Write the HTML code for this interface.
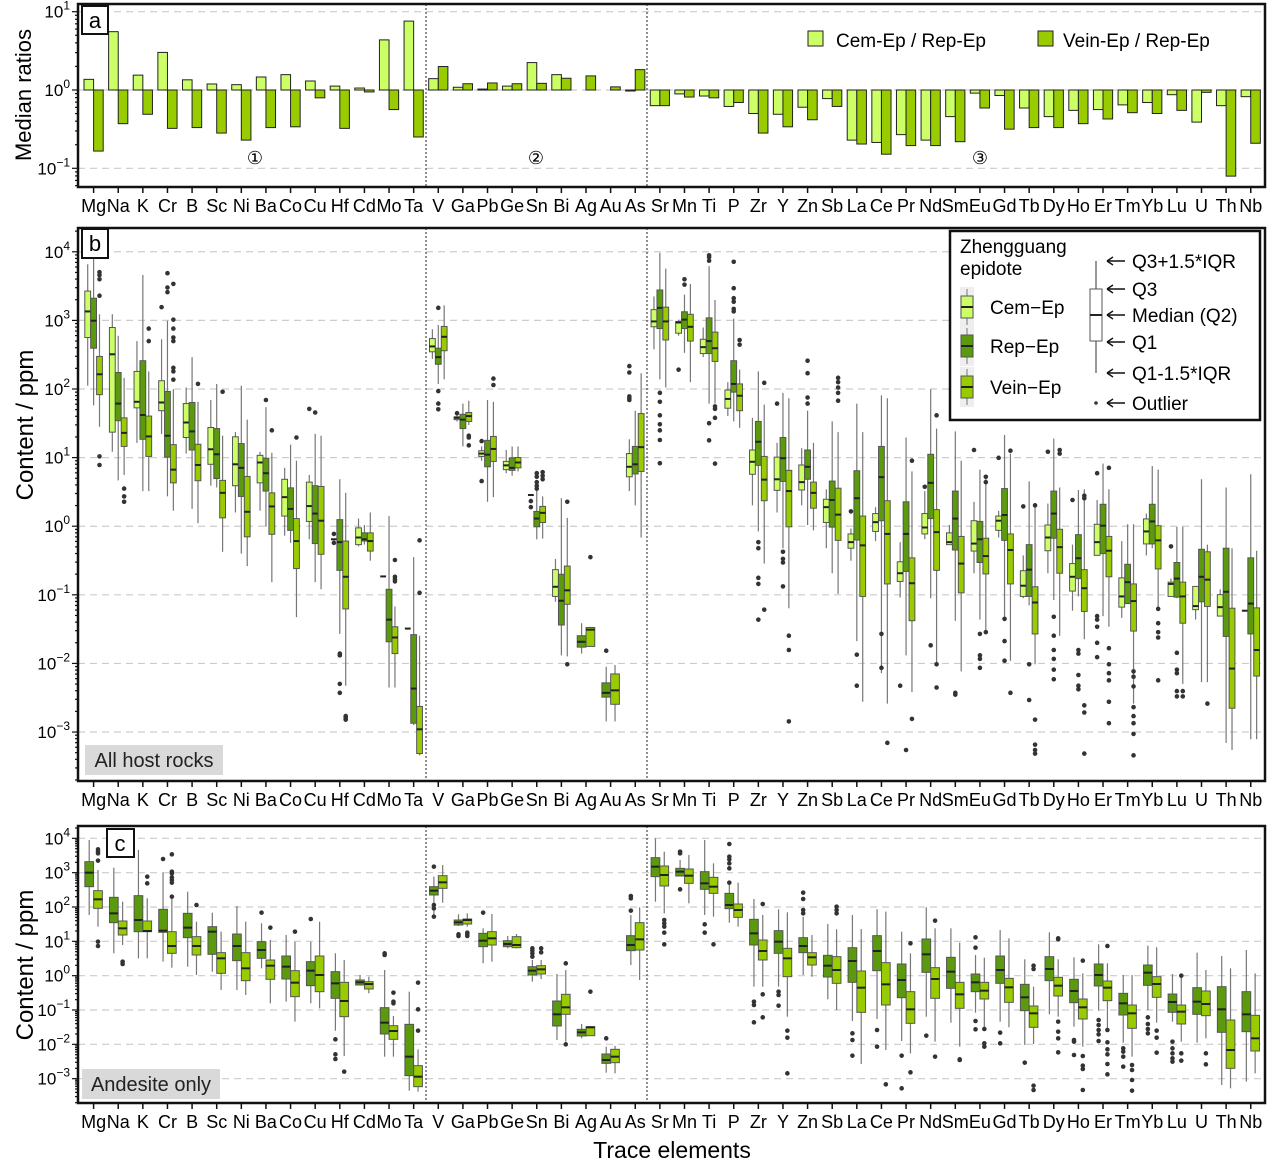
<!DOCTYPE html>
<html><head><meta charset="utf-8"><style>html,body{margin:0;padding:0;background:#fff}svg{display:block}text{font-family:"Liberation Sans",sans-serif}</style></head>
<body><svg id="s" width="1268" height="1171" xmlns="http://www.w3.org/2000/svg"></svg>
<script>
const S=document.getElementById('s');let h='';
const E="Mg Na K Cr B Sc Ni Ba Co Cu Hf Cd Mo Ta V Ga Pb Ge Sn Bi Ag Au As Sr Mn Ti P Zr Y Zn Sb La Ce Pr Nd Sm Eu Gd Tb Dy Ho Er Tm Yb Lu U Th Nb".split(' ');
const X=i=>93.6+24.62*i;
const CC='#ccff66',CR='#5b9a0c',CV='#99cc00';
const L=78,R=1265;
function frame(t,b){h+=`<rect x="${L}" y="${t}" width="${R-L}" height="${b-t}" fill="none" stroke="#111" stroke-width="2.5"/>`;}
function grid(y){h+=`<line x1="${L}" x2="${R}" y1="${y}" y2="${y}" stroke="#ccc" stroke-width="1.2" stroke-dasharray="7,5"/>`;}
function ylab(y,e){h+=`<text x="70" y="${y+6}" font-size="17" text-anchor="end">10<tspan dy="-8" font-size="12">${e}</tspan></text>`;}
function xlabels(b){E.forEach((n,i)=>{h+=`<line x1="${X(i)}" x2="${X(i)}" y1="${b}" y2="${b+6}" stroke="#111" stroke-width="1.5"/>`;h+=`<text x="${X(i)}" y="${b+25}" font-size="18" text-anchor="middle">${n}</text>`;});}
function minors(yOf,d0,d1,t,b){for(let d=d0;d<=d1;d++){for(let k=1;k<10;k++){const y=yOf(d+Math.log10(k));if(y<t||y>b)continue;const len=k==1?6:3;h+=`<line x1="${L-len}" x2="${L}" y1="${y}" y2="${y}" stroke="#111" stroke-width="1.2"/>`;}}}
function dividers(t,b){[426,647].forEach(x=>h+=`<line x1="${x}" x2="${x}" y1="${t}" y2="${b}" stroke="#222" stroke-width="1" stroke-dasharray="2,2"/>`);}
// Panel a
const A=[[.136,-.78],[.745,-.43],[.19,-.31],[.48,-.49],[.13,-.48],[.077,-.55],[.068,-.64],[.166,-.48],[.196,-.47],[.115,-.1],[.05,-.49],[.025,-.025],[.64,-.25],[.88,-.6],[.145,.3],[.035,.08],[.012,.09],[.05,.08],[.35,.085],[.196,.15],[0,.18],[0,.04],[-.01,.26],[-.2,-.2],[-.05,-.09],[-.077,-.1],[-.21,-.16],[-.3,-.55],[-.31,-.47],[-.22,-.38],[-.11,-.21],[-.64,-.69],[-.67,-.82],[-.57,-.71],[-.64,-.71],[-.34,-.66],[-.04,-.23],[-.07,-.5],[-.23,-.48],[-.34,-.48],[-.26,-.43],[-.25,-.37],[-.19,-.29],[-.16,-.3],[-.06,-.26],[-.41,-.03],[-.2,-1.1],[-.085,-.68]];
const ya=v=>90-v*78.3;
[1,0,-1].forEach(d=>grid(ya(d)));
A.forEach((p,i)=>{const x=X(i);[[p[0],x-9.6,CC],[p[1],x,CV]].forEach(([v,x0,c])=>{if(Math.abs(v)<0.004)return;const y1=ya(Math.max(v,0)),y2=ya(Math.min(v,0));h+=`<rect x="${x0}" y="${y1}" width="9.6" height="${Math.max(y2-y1,1)}" fill="${c}" stroke="#222" stroke-width="1"/>`;});});
dividers(4,187);
minors(ya,-2,1,4,187);
[1,0,-1].forEach(d=>ylab(ya(d),d<0?'−1':d));
frame(4,187);xlabels(187);
h+=`<rect x="82" y="6" width="26" height="28" fill="#fff" stroke="#111" stroke-width="2"/><text x="95" y="28" font-size="22" text-anchor="middle">a</text>`;
h+=`<text x="255" y="164" font-size="18" text-anchor="middle">①</text><text x="536" y="164" font-size="18" text-anchor="middle">②</text><text x="980" y="164" font-size="18" text-anchor="middle">③</text>`;
h+=`<rect x="808" y="31" width="15" height="15" fill="${CC}" stroke="#222"/><text x="836" y="47" font-size="19">Cem-Ep / Rep-Ep</text><rect x="1038" y="31" width="15" height="15" fill="${CV}" stroke="#222"/><text x="1063" y="47" font-size="19">Vein-Ep / Rep-Ep</text>`;
h+=`<text transform="translate(31,95) rotate(-90)" font-size="22" text-anchor="middle">Median ratios</text>`;
// box drawing
function box(x,w,c,d,yf){if(!d)return;const [lo,q1,m,q3,hi,o]=d;const Y=yf;
 h+=`<line x1="${x}" x2="${x}" y1="${Y(lo)}" y2="${Y(hi)}" stroke="#777" stroke-width="1.2"/>`;
 const t=Math.min(Y(q1),Y(q3)),bb=Math.max(Y(q1),Y(q3));
 if(bb-t>0.5)h+=`<rect x="${x-w/2}" y="${t}" width="${w}" height="${bb-t}" fill="${c}" stroke="#555" stroke-width="1"/>`;
 h+=`<line x1="${x-w/2}" x2="${x+w/2}" y1="${Y(m)}" y2="${Y(m)}" stroke="#222" stroke-width="2"/>`;
 (o||[]).forEach(z=>h+=`<circle cx="${x}" cy="${Y(z)}" r="2.3" fill="#333"/>`);}
function dash(v){return [v,v,v,v,v];}
// Panel b
const B=[
[[450,315,242,185,110],[505,345,268,205,90],[565,475,418,368,250,[132,140,152,198,648,672]]],
[[635,580,362,287,250],[715,548,500,413,310],[700,620,582,540,428,[738,760,775]]],
[[610,512,495,410,325],[745,600,532,380,140],[745,648,592,535,410,[290,325]]],
[[585,520,497,436,320,[230]],[760,650,590,466,268,[135,175,188]],[800,722,685,615,460,[165,265,290,315,325,400,410,433]]],
[[640,595,553,500,455],[795,630,578,497,370],[835,716,672,614,495,[445]]],
[[730,670,628,567,490],[735,710,642,570,445],[915,820,750,715,590,[467]]],
[[805,730,670,593,580],[920,760,680,612,450],[955,873,803,704,545]],
[[800,722,665,645,635],[845,745,695,653,510,[490]],[1000,866,788,750,638,[575]]],
[[870,815,762,712,680],[890,855,795,736,615],[1098,962,885,822,660,[595]]],
[[880,830,787,720,700,[515]],[1000,892,808,730,585,[525]],[1020,922,828,732,590]],
[[880,880,880,880,880,[865,890]],[1145,967,888,825,712,[1200,1205,1285,1310]],[1290,1075,985,885,750,[1375,1380,1385]]],
[[900,895,875,848,822],[895,885,880,862,840],[940,913,885,862,805]],
[dash(984),[1295,1167,1105,1020,815],[1295,1200,1155,1125,1068,[938,985,992,998]]],
[dash(1130),[1400,1395,1298,1147,930],[1485,1480,1412,1348,1150,[883,1030]]],
[[375,355,340,318,292],[445,390,370,345,280,[232,465,500,516]],[432,352,313,284,225]],
[[550,545,540,537,525,[527]],[620,570,545,530,500],[560,550,535,525,492,[590,595,617]]],
[[660,648,640,632,620,[605,717]],[775,677,643,603,490],[762,662,627,592,495,[430,448]]],
[[695,685,673,662,630],[702,687,680,652,620],[690,680,665,651,620]],
[[756,756,756,756,756,[773,790]],[880,845,822,802,740,[695,705,720,730,738]],[878,833,806,788,760,[692,702,712]]],
[[1055,1040,1013,965,935],[1205,1120,1052,978,765],[1208,1062,1023,955,820,[775,1230]]],
[null,[1200,1182,1167,1150,1115],[1180,1180,1133,1127,1125,[930]]],
[null,[1390,1322,1310,1282,1237,[1192]],[1390,1342,1303,1257,1232]],
[[745,705,677,640,600,[395,413,480,485,490]],[785,697,670,620,520],[875,690,622,528,415]],
[[348,285,270,237,200],[432,290,232,182,78,[470,495,533,558,575,602,667]],[455,322,270,230,122]],
[[310,303,273,270,265,[405]],[358,290,265,243,195,[152,167]],[440,325,285,250,165]],
[[370,360,342,320,287],[500,360,325,260,115,[85,90,100,555,603]],[500,382,345,300,210,[508,515,540,668]]],
[[535,513,487,462,440],[550,468,445,380,262,[103,177,205,215,235,242]],[568,520,478,445,405,[322,335]]],
[[785,698,663,630,540],[858,673,607,550,410,[888,905,988,1005,1105]],[948,772,713,648,503,[442,1077]]],
[[805,743,712,650,610,[500]],[905,718,653,595,470,[915,935,945,1012]],[1073,845,745,687,485,[1150,1190,1390]]],
[[785,742,720,672,625],[840,712,677,630,520,[380,415,483,500]],[855,793,750,720,610]],
[[905,833,790,768,740],[975,846,770,717,550],[1033,883,811,737,580,[428,440,455,470,492]]],
[[940,905,888,865,850,[802]],[1165,882,765,688,500,[1203,1290]],[1335,1040,897,815,580]],
[[885,858,832,808,790],[1255,828,706,620,477,[1145,1240]],[1340,1005,865,772,485,[1450]]],
[[1043,998,975,943,888,[1290]],[1205,970,865,775,595,[1470]],[1308,1108,1003,932,690,[660,1383]]],
[[880,865,847,808,745,[733]],[1045,822,722,642,460,[1177]],[1235,967,860,797,570,[533,1230,1295]]],
[[895,895,888,862,840],[1108,910,822,745,578,[1310,1315]],[1250,1030,948,872,660]],
[[975,913,892,828,775,[630]],[1105,945,880,830,685,[1145,1205,1215,1240]],[1140,977,927,877,700,[705,720,1140]]],
[[875,855,828,815,800,[652]],[1100,883,812,738,588,[1103,1165,1220]],[1220,1005,910,865,640,[632,1310]]],
[[1045,1040,1010,968,925,[788]],[1065,1040,965,895,718,[1230,1330]],[1230,1145,1057,1013,785,[785,1385,1455,1470,1480]]],
[[975,912,875,840,780,[635]],[1050,877,808,745,598,[1097,1150,1190,1215,1245,1272]],[1150,975,902,852,735,[630,640]]],
[[1080,1025,985,948,895,[770]],[1040,990,933,867,742,[1190,1200,1260,1290,1300]],[1160,1082,1017,965,740,[758,765,1345,1365,1480]]],
[[925,925,888,838,770,[695,1095,1105,1125,1170,1210]],[1095,920,842,782,668],[1125,985,912,872,740,[680,1185,1230,1255,1275,1335,1395]]],
[[1100,1070,1040,988,885],[1060,1060,1000,950,838],[1340,1137,1053,1005,838,[1250,1265,1292,1350,1375,1395,1425,1485]]],
[[925,893,858,823,808],[905,893,830,782,675],[1070,963,883,842,685,[1075,1115,1140,1155,1275]]],
[[1040,1040,1005,1000,990,[900]],[1045,1042,990,945,845,[1198,1245,1255,1305,1320]],[1285,1115,1040,1000,845,[1305,1320]]],
[[1105,1077,1067,1012,1012],[1280,1055,985,908,712],[1280,1068,993,915,895,[1340]]],
[[1095,1095,1070,1035,1020],[1450,1152,1027,905,735],[1470,1353,1242,1073,905]],
[dash(1080),[1440,1145,1060,932,698],[1440,1263,1190,1072,912]]];
const yb=z=>225+z/2.8, ybl=l=>yb(75+(4-l)*192.1);
for(let d=-3;d<=4;d++)grid(ybl(d));
dividers(228,781);
B.forEach((g,i)=>{const x=X(i);if(g[0]){box(x-5.9,5.8,CC,g[0],yb);box(x,5.8,CR,g[1],yb);box(x+5.9,5.8,CV,g[2],yb);}else{box(x-4.4,8.7,CR,g[1],yb);box(x+4.4,8.7,CV,g[2],yb);}});
minors(ybl,-4,4,228,781);
for(let d=-3;d<=4;d++)ylab(ybl(d),d<0?'−'+(-d):d);
h+=`<rect x="85" y="745" width="138" height="30" fill="#d9d9d9"/><text x="154" y="767" font-size="20" text-anchor="middle" fill="#222">All host rocks</text>`;
h+=`<rect x="82" y="229" width="26" height="29" fill="#fff" stroke="#111" stroke-width="2"/><text x="95" y="251" font-size="22" text-anchor="middle">b</text>`;
// legend b
h+=`<rect x="950" y="231" width="310" height="189" fill="#fff" stroke="#111" stroke-width="2.5"/>`;
h+=`<text x="960" y="253" font-size="19">Zhengguang</text><text x="960" y="275" font-size="19">epidote</text>`;
[[CC,307,'Cem−Ep'],[CR,346,'Rep−Ep'],[CV,387,'Vein−Ep']].forEach(([c,y,t])=>{h+=`<rect x="960" y="${y-20}" width="14" height="40" fill="#eee"/><line x1="967" x2="967" y1="${y-18}" y2="${y+18}" stroke="#777"/><rect x="961" y="${y-11}" width="12" height="22" fill="${c}" stroke="#555"/><line x1="961" x2="973" y1="${y}" y2="${y}" stroke="#222" stroke-width="2"/><text x="990" y="${y+7}" font-size="19">${t}</text>`;});
h+=`<line x1="1096" x2="1096" y1="261" y2="373" stroke="#555" stroke-width="1.2"/><rect x="1090" y="289" width="12" height="52" fill="#fff" stroke="#555"/><line x1="1090" x2="1102" y1="315" y2="315" stroke="#222" stroke-width="2"/><circle cx="1096" cy="403" r="1.8" fill="#333"/>`;
[[261,'Q3+1.5*IQR'],[289,'Q3'],[315,'Median (Q2)'],[342,'Q1'],[373,'Q1-1.5*IQR'],[403,'Outlier']].forEach(([y,t])=>{h+=`<line x1="1108" x2="1125" y1="${y}" y2="${y}" stroke="#111" stroke-width="1.4"/><path d="M1107 ${y} l6 -4 M1107 ${y} l6 4" stroke="#111" stroke-width="1.4" fill="none"/><text x="1132" y="${y+7}" font-size="19">${t}</text>`;});
frame(228,781);xlabels(781);
h+=`<text transform="translate(33,425) rotate(-90)" font-size="24" text-anchor="middle">Content / ppm</text>`;
// Panel c
const C=[
[[285,200,158,125,60],[320,265,238,212,150,[88,95,100,122,365,378]]],
[[400,308,280,232,143],[375,345,325,303,245,[425,432]]],
[[415,335,300,227,90],[415,335,333,303,235,[170,190]]],
[[425,337,332,268,158,[117]],[443,400,378,335,235,[103,155,160,172,180,188,230]]],
[[440,353,323,280,215],[465,405,378,350,305,[255]]],
[[455,403,335,320,278],[510,460,415,398,335]],
[[510,422,378,342,258],[525,482,445,398,305]],
[[445,415,390,365,310,[278]],[550,478,437,420,360,[323]]],
[[545,477,440,408,345],[605,530,488,452,365,[335]]],
[[550,497,452,425,365,[297]],[565,515,465,408,305]],
[[632,535,490,455,400,[658,703,717]],[708,590,543,487,420,[755]]],
[[495,495,487,480,465],[520,507,492,485,470]],
[[710,642,608,563,450,[400,405]],[710,658,633,617,588,[518,545,550]]],
[[812,767,710,613,515],[815,800,770,737,688,[488,568,632]]],
[[295,225,212,200,170,[140,255,265,290]],[248,205,187,167,135]],
[[318,315,307,300,283,[343,348]],[320,312,300,297,280,[338,343,348]]],
[[430,380,362,340,325,[278]],[425,375,355,335,282]],
[[385,380,372,362,348],[385,383,375,350,342]],
[[485,465,452,440,420,[385,392,400,410]],[477,462,448,437,420,[385,397]]],
[[660,618,583,543,462],[665,583,562,523,450,[673,430]]],
[[655,648,637,628,612],[645,647,622,620,618,[515]]],
[[758,730,720,702,680,[655]],[760,728,710,688,678]],
[[435,392,375,347,285,[228,235,272]],[480,390,358,308,262]],
[[245,170,140,113,55],[280,198,165,138,95,[300,310,320,338,373]]],
[[165,168,155,145,120,[95,100,208]],[250,190,167,147,105]],
[[285,208,190,155,60,[313,338]],[290,220,200,172,130,[373]]],
[[308,266,255,220,190,[72,110,118,130,145,188]],[320,292,270,252,188]],
[[500,375,340,298,237,[545,555,607]],[500,420,393,360,285,[252,523,592]]],
[[500,400,365,332,268,[515,525,557]],[590,470,415,385,277,[632,653,760]]],
[[465,398,378,353,290,[218,237,270,280]],[470,435,412,398,345]],
[[538,471,437,406,312],[570,490,450,410,328,[260,270,280]]],
[[603,487,423,383,285,[640,660,707]],[732,577,503,453,327]],
[[597,452,393,347,268,[630,680]],[690,555,493,428,275,[793]]],
[[663,533,480,432,335,[707,805]],[700,610,568,515,400,[370,757]]],
[[590,457,403,357,262,[647]],[665,535,477,443,325,[302,710]]],
[[608,505,455,412,325],[680,565,523,487,368,[718,720]]],
[[578,515,487,462,405,[352,383,603,628]],[625,537,512,487,413,[627,670,680]]],
[[605,490,450,408,330,[638,670]],[622,547,502,475,355]],
[[675,572,532,493,418,[728]],[672,622,580,558,500,[437,447,797,810]]],
[[583,482,447,410,337],[590,528,497,472,418,[355,358,605,635,655,697]]],
[[620,548,513,478,412,[660,665,705]],[680,597,562,537,460,[422,708,737,747,810]]],
[[572,498,465,432,373,[600,615,630,643,663]],[625,542,503,483,430,[378,630,667,688,703,732,763]]],
[[668,585,550,520,465,[685,695,710,740]],[710,625,580,555,465,[735,750,780,812]]],
[[570,496,458,435,377,[592,612,627,640]],[608,532,492,470,382,[632,653,698]]],
[[605,577,546,522,462,[665,685,700,715,725]],[665,612,575,555,462,[467,700,722]]],
[[668,583,545,503,398],[655,587,552,513,450,[700,733]]],
[[795,637,568,500,408],[805,745,690,600,445]],
[[785,635,583,515,390],[760,693,655,586,460]]];
const yc=z=>820+z/3, ycl=l=>yc(55+(4-l)*103);
for(let d=-3;d<=4;d++)grid(ycl(d));
dividers(826,1103);
C.forEach((g,i)=>{const x=X(i);box(x-4.4,8.7,CR,g[0],yc);box(x+4.4,8.7,CV,g[1],yc);});
minors(ycl,-4,4,826,1103);
for(let d=-3;d<=4;d++)ylab(ycl(d),d<0?'−'+(-d):d);
h+=`<rect x="82" y="1069" width="138" height="30" fill="#d9d9d9"/><text x="151" y="1091" font-size="20" text-anchor="middle" fill="#222">Andesite only</text>`;
h+=`<rect x="107" y="829" width="27" height="28" fill="#fff" stroke="#111" stroke-width="2"/><text x="120" y="851" font-size="22" text-anchor="middle">c</text>`;
frame(826,1103);xlabels(1103);
h+=`<text transform="translate(33,965) rotate(-90)" font-size="24" text-anchor="middle">Content / ppm</text>`;
h+=`<text x="672" y="1158" font-size="23" text-anchor="middle">Trace elements</text>`;
S.innerHTML=h;
</script></body></html>
